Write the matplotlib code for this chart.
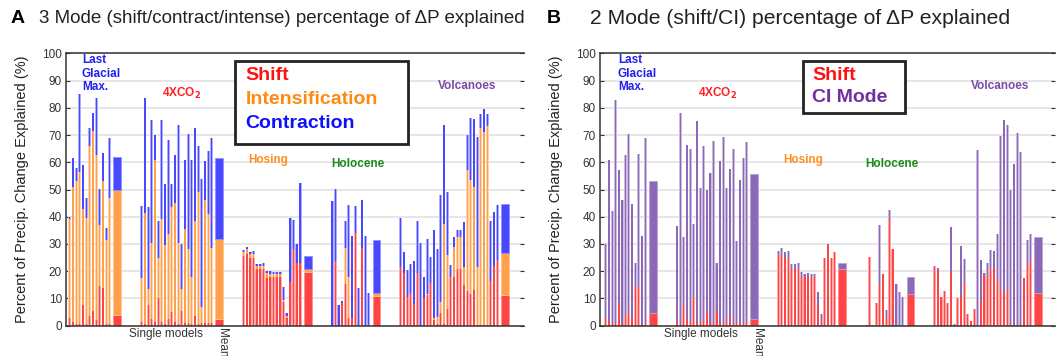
import numpy as np
import matplotlib.pyplot as plt
from matplotlib.patches import Rectangle
from matplotlib.colors import to_rgb

plt.rcParams['font.family'] = ['Liberation Sans', 'DejaVu Sans']

# ---------------- data (percent of precip. change explained) ----------------
# Panel A: stacked shift / intensification / contraction
# values read off as levels: shift top, shift+intensification top, total top
a_lgm_shift = [3, 1.5, 0.5, 0.5, 7.5, 0.5, 3.5, 5.5, 2, 14.5, 14, 0.5, 0.5]
a_lgm_si = [39, 51, 53, 56.5, 43, 39.5, 66, 71.5, 62.5, 37, 53, 31.5, 47]
a_lgm_total = [40, 61.5, 58, 85, 59, 47, 72.5, 78, 83.5, 50, 63.5, 36, 69]

a_co2_shift = [1.5, 0.5, 7.5, 2.5, 1.5, 10, 1.5, 0.5, 2.5, 5, 1.5,
               0.5, 5.5, 1, 1, 0.5, 3.5, 0.5, 1, 1, 1, 1]
a_co2_si = [17.5, 41.5, 13.5, 30.5, 61, 25, 39, 29.5, 33.5, 43.5, 45,
            30.5, 13.5, 35.5, 28, 18, 38.5, 49, 7, 46, 41, 28.5]
a_co2_total = [44, 83.5, 43.5, 75.5, 70, 38.5, 75.5, 52, 68, 52, 62.5,
               73.5, 30, 61, 70.5, 61, 72.5, 66, 54, 60.5, 64, 69]

a_hos_shift = [25.5, 26.5, 24.7, 24.7, 20.7, 20.7, 20.7, 17.4, 17.7,
               17.7, 17.7, 17.7, 8.8, 2.7, 16.1, 28, 22.9, 22.9]
a_hos_si = [27, 28, 26.3, 26.3, 21.8, 21.8, 21.8, 19.2, 19, 19, 19, 19,
            9.5, 3.5, 16.1, 28, 22.9, 22.9]
a_hos_total = [27.7, 28.9, 27.1, 27.5, 22.7, 22.6, 22.9, 20.2, 20.2,
               19.8, 19.7, 19.8, 14.1, 4.5, 39.7, 38.8, 30, 52.4]

a_hol_shift = [0, 23.8, 0, 8.2, 15.2, 3, 3, 34.1, 0, 28.4, 0, 0]
a_hol_si = [0, 23.8, 0, 8.2, 28.4, 18, 3, 34.1, 0, 28.4, 0, 0]
a_hol_total = [45.7, 50.1, 7.6, 9.2, 38.5, 44.3, 32.9, 43.9, 13.7, 46.1,
               32.9, 11.9]

a_vol_shift = [21.4, 19.4, 10.4, 11.9, 7.9, 19.2, 0, 10, 11.2, 15.5, 2,
               0.8, 4.5, 0.5, 6.2, 17.7, 17.8, 20.8, 20.8, 14.9, 12.8,
               11.6, 13.1, 0.3, 0.3, 0.3, 0.3, 16.5, 21.9, 24.3]
a_vol_si = [21.4, 19.4, 10.4, 11.9, 7.9, 19.2, 0, 10, 11.8, 15.5, 2.7,
            3.3, 8.8, 37.3, 25.9, 17.7, 28.8, 32.4, 32.4, 21.7, 57.3,
            53.5, 51, 21.6, 72.7, 71.1, 73.2, 16.5, 21.9, 24.3]
a_vol_total = [39.4, 27.1, 20.4, 22.5, 23.8, 38.5, 30.5, 17.7, 31.7, 25.1,
               35.1, 28, 47.9, 73.6, 49.2, 22.3, 32.6, 35.3, 35.3, 38.1,
               69.9, 76.4, 75.7, 69.3, 77.9, 79.7, 77.9, 38.5, 41.8, 44.3]

a_mean_shift = [4, 2.5, 19.8, 10.9, 11.2]
a_mean_si = [50, 32, 20.7, 11.9, 26.8]
a_mean_total = [62, 61.5, 25.5, 31.4, 44.5]

# Panel B: shift / CI mode (shift top, total top)
b_lgm_shift = [3, 1.5, 1.5, 0.5, 7.5, 0.5, 3.5, 5.5, 2.5, 14.5, 14, 0.5, 0.5]
b_lgm_total = [30, 61, 42, 83, 57, 46, 62.5, 70.5, 44.5, 23, 63, 33, 69]

b_co2_shift = [1.5, 0.5, 7.5, 2.5, 1.5, 10, 1.5, 0.5, 2.5, 5, 1.5,
               0.5, 5.5, 1, 1, 0.5, 3.5, 0.5, 1, 1, 1, 1]
b_co2_total = [36.7, 78.1, 32.4, 66.5, 65, 37.2, 75.2, 50.6, 66, 49.8,
               55.9, 67.7, 23.2, 60.5, 69.3, 50.6, 57.7, 64.7, 31.1, 53.4,
               61.7, 67.5]

b_hos_shift = [25.3, 26.5, 24.7, 24.7, 20.7, 20.7, 20.7, 17.4, 17.7, 17.7,
               17.7, 17.7, 7.5, 0.9, 24.7, 30, 25, 26.9]
b_hos_total = [27.5, 28.7, 27.1, 27.3, 22.6, 22.6, 22.9, 19.8, 19.1, 19.4,
               18.8, 18.8, 12.3, 4.2, 24.7, 30, 25, 26.9]

b_hol_shift = [0.3, 25.3, 0.2, 8.2, 14.9, 18.8, 3, 39.1, 28, 0, 0, 0]
b_hol_total = [0.3, 25.3, 0.2, 8.2, 36.9, 18.8, 5.7, 42.4, 28, 15.3, 12.5,
               10.6]

b_vol_shift = [21.9, 20, 10.6, 12.8, 8.2, 19.2, 0.6, 10.3, 10.6, 15.5, 4.2,
               1.8, 6, 0.2, 9, 18.2, 18.2, 21, 21, 16.7, 13.1, 11.9, 13.3,
               0.9, 0.2, 0.2, 0.2, 17.6, 21.9, 24.3]
b_vol_total = [21.9, 21.3, 10.6, 12.8, 8.2, 36.3, 0.6, 10.3, 29.2, 24.6,
               4.2, 1.8, 6, 64.4, 24.1, 19.2, 23.1, 27.8, 27.5, 33.5, 69.7,
               75.4, 73.6, 50, 59.5, 70.8, 63.8, 17.6, 31.4, 33.5]

b_mean_shift = [4.5, 2.5, 20.7, 11.5, 11.9]
b_mean_total = [53, 55.6, 22.9, 17.7, 32.4]

RED = '#ff4444'
ORANGE = '#ffa04a'
BLUE = '#4848ff'
PURPLE = '#8c68b8'


def light(c, f=0.5):
    r, g, b = to_rgb(c)
    return (r + (1 - r) * f, g + (1 - g) * f, b + (1 - b) * f)


def thin_bars(ax, xs, h, bottom, color):
    # soft pale edge plus saturated core, like the original thin bars
    ax.bar(xs, h, bottom=bottom, width=0.82, color=light(color, 0.55), lw=0)
    ax.bar(xs, h, bottom=bottom, width=0.42, color=color, lw=0)


def mean_bars(ax, xs, h, bottom, color):
    ax.bar(xs, h, bottom=bottom, width=2.3, color=color,
           edgecolor=light(color, 0.4), lw=0.6)


def group_positions(sizes):
    # consecutive bars per group, mean bar a bit after, then a gap
    pos, means = [], []
    start = 1.1
    for n in sizes:
        xs = start + np.arange(n)
        xm = xs[-1] + 2.3
        pos.append(xs)
        means.append(xm)
        start = xm + 7.3
    return pos, means


def style_axes(ax, xlim):
    ax.set_xlim(*xlim)
    ax.set_ylim(0, 100)
    ax.set_yticks(np.arange(0, 101, 10))
    ax.yaxis.grid(True, color='#e2e2e2', lw=1.2)
    ax.set_axisbelow(True)
    ax.tick_params(axis='y', direction='in', length=3, right=True,
                   labelsize=8.5, labelcolor='#333333', color='#333333', pad=3)
    ax.spines['right'].set_visible(False)
    for s in ['left', 'top', 'bottom']:
        ax.spines[s].set_color('#333333')
        ax.spines[s].set_linewidth(1.1)
    ax.set_ylabel('Percent of Precip. Change Explained (%)', fontsize=10.5,
                  color='#222222', labelpad=9)


def group_labels(ax, means):
    ax.set_xticks([30.0, means[1] + 0.9])
    ax.set_xticklabels(['Single models', 'Mean'], fontsize=8.5,
                       color='#333333')
    ax.get_xticklabels()[1].set_rotation(-90)
    ax.get_xticklabels()[1].set_va('top')
    ax.tick_params(axis='x', length=0, pad=2)
    kw = dict(fontsize=8.5, fontweight='bold')
    ax.text(4.8, 99.6, 'Last\nGlacial\nMax.', color='#2222ee', va='top',
            ha='left', linespacing=1.15, **kw)
    ax.text(34.8, 85.3, r'4XCO$_\mathbf{2}$', color='#ff2020', ha='center',
            va='center', **kw)
    ax.text(60.8, 60.8, 'Hosing', color='#ff9020', ha='center', va='center', **kw)
    ax.text(87.7, 59.3, 'Holocene', color='#1a8a1a', ha='center', va='center', **kw)
    ax.text(120.4, 87.9, 'Volcanoes', color='#7a4aa8', ha='center',
            va='center', **kw)


fig = plt.figure(figsize=(10.56, 3.56), dpi=100)
axA = fig.add_axes([66 / 1056, 1 - 325.7 / 356, 458 / 1056, 272.4 / 356])
axB = fig.add_axes([600 / 1056, 1 - 325.7 / 356, 455 / 1056, 272.4 / 356])

sizes = [len(a_lgm_shift), len(a_co2_shift), len(a_hos_shift),
         len(a_hol_shift), len(a_vol_shift)]
pos, means = group_positions(sizes)

# ---- panel A
a_groups = [(a_lgm_shift, a_lgm_si, a_lgm_total),
            (a_co2_shift, a_co2_si, a_co2_total),
            (a_hos_shift, a_hos_si, a_hos_total),
            (a_hol_shift, a_hol_si, a_hol_total),
            (a_vol_shift, a_vol_si, a_vol_total)]
for (sh, si, tot), xs in zip(a_groups, pos):
    sh, si, tot = np.array(sh), np.array(si), np.array(tot)
    thin_bars(axA, xs, sh, 0, RED)
    thin_bars(axA, xs, si - sh, sh, ORANGE)
    thin_bars(axA, xs, tot - si, si, BLUE)
ms, msi, mt = np.array(a_mean_shift), np.array(a_mean_si), np.array(a_mean_total)
mean_bars(axA, means, ms, 0, RED)
mean_bars(axA, means, msi - ms, ms, ORANGE)
mean_bars(axA, means, mt - msi, msi, BLUE)
style_axes(axA, (0, 137.5))
group_labels(axA, means)

axA.add_patch(Rectangle((0.369, 0.667), 0.378, 0.305, transform=axA.transAxes,
                        fill=True, facecolor='white', edgecolor='#222222',
                        lw=2, zorder=5))
for txt, col, yy in [('Shift', '#ff1010', 0.917),
                     ('Intensification', '#ff8a10', 0.829),
                     ('Contraction', '#1010ff', 0.741)]:
    axA.text(0.392, yy, txt, color=col, fontsize=14, fontweight='bold',
             transform=axA.transAxes, va='center', ha='left', zorder=6)

# ---- panel B
b_groups = [(b_lgm_shift, b_lgm_total), (b_co2_shift, b_co2_total),
            (b_hos_shift, b_hos_total), (b_hol_shift, b_hol_total),
            (b_vol_shift, b_vol_total)]
for (sh, tot), xs in zip(b_groups, pos):
    sh, tot = np.array(sh), np.array(tot)
    thin_bars(axB, xs, sh, 0, RED)
    thin_bars(axB, xs, tot - sh, sh, PURPLE)
ms, mt = np.array(b_mean_shift), np.array(b_mean_total)
mean_bars(axB, means, ms, 0, RED)
mean_bars(axB, means, mt - ms, ms, PURPLE)
style_axes(axB, (-0.6, 136.9))
group_labels(axB, means)

axB.add_patch(Rectangle((0.446, 0.781), 0.224, 0.191, transform=axB.transAxes,
                        fill=True, facecolor='white', edgecolor='#222222',
                        lw=2, zorder=5))
for txt, col, yy in [('Shift', '#ff1010', 0.917), ('CI Mode', '#7030a0', 0.836)]:
    axB.text(0.466, yy, txt, color=col, fontsize=14, fontweight='bold',
             transform=axB.transAxes, va='center', ha='left', zorder=6)

# ---- panel titles
fig.text(0.010, 0.947, 'A', fontsize=14, fontweight='bold', va='center')
fig.text(0.037, 0.947, '3 Mode (shift/contract/intense) percentage of ΔP explained',
         fontsize=13.5, va='center', color='#222222')
fig.text(0.518, 0.947, 'B', fontsize=14, fontweight='bold', va='center')
fig.text(0.559, 0.947, '2 Mode (shift/CI) percentage of ΔP explained',
         fontsize=15.2, va='center', color='#222222')

fig.savefig('out.png', dpi=100)
